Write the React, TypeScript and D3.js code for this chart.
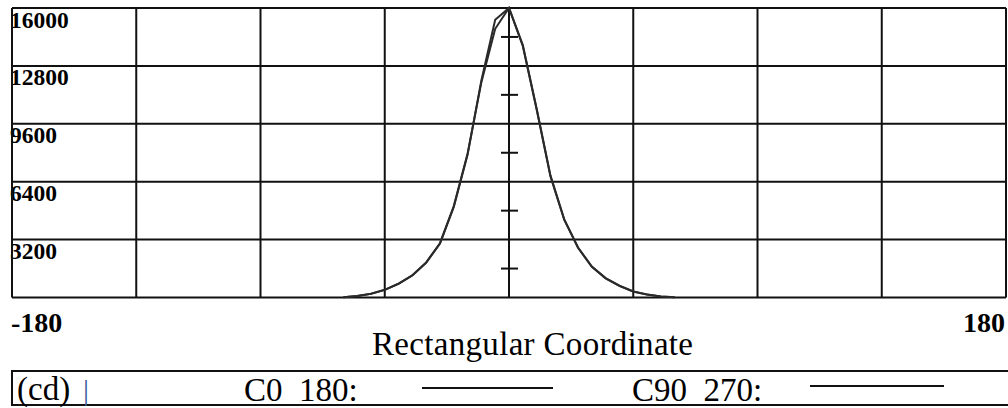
import React, { useEffect, useRef } from 'react';
import * as d3 from 'd3';

// angles in degrees, candela values
const angles = [-60, -55, -50, -45, -40, -35, -30, -25, -20, -15, -10, -5, 0, 5, 10, 15, 20, 25, 30, 35, 40, 45, 50, 55, 60];
const c0_180 = [20, 80, 200, 420, 760, 1220, 1920, 2980, 5000, 7900, 12000, 15350, 16000, 13900, 10400, 6700, 4300, 2750, 1700, 1060, 640, 330, 160, 60, 15];
const c90_270 = [20, 85, 205, 425, 770, 1230, 1940, 3000, 5050, 7950, 11900, 14850, 16000, 13950, 10450, 6750, 4320, 2760, 1710, 1070, 650, 335, 165, 62, 15];

const yTicks = [3200, 6400, 9600, 12800, 16000];
const xTicks = [-180, -135, -90, -45, 0, 45, 90, 135, 180];
const midTicks = [1600, 4800, 8000, 11200, 14400];

const App: React.FC = () => {
  const svgRef = useRef<SVGSVGElement>(null);

  useEffect(() => {
    if (!svgRef.current) return;
    const svg = d3.select(svgRef.current);
    svg.selectAll('*').remove();

    const left = 12, right = 1006, top = 8, bottom = 297.5;
    const x = d3.scaleLinear().domain([-180, 180]).range([left, right]);
    const y = d3.scaleLinear().domain([0, 16000]).range([bottom, top]);
    const serif = '"Liberation Serif", "Times New Roman", serif';
    const ink = '#111';

    svg.append('rect')
      .attr('width', 1008).attr('height', 408).attr('fill', '#fff');

    // y tick labels (drawn first, border sits on top)
    svg.append('g').selectAll('text')
      .data(yTicks)
      .enter().append('text')
      .attr('x', 10)
      .attr('y', d => y(d) + 19.5)
      .attr('font-family', serif)
      .attr('font-size', 23.5)
      .attr('font-weight', 'bold')
      .attr('fill', '#000')
      .text(d => d);

    // grid
    const grid = svg.append('g').attr('stroke', ink).attr('stroke-width', 2);
    grid.selectAll('.h')
      .data([0, ...yTicks])
      .enter().append('line')
      .attr('x1', left).attr('x2', right)
      .attr('y1', d => y(d)).attr('y2', d => y(d));
    grid.selectAll('.v')
      .data(xTicks)
      .enter().append('line')
      .attr('x1', d => x(d)).attr('x2', d => x(d))
      .attr('y1', top).attr('y2', bottom);

    // small ticks on the centre axis
    grid.selectAll('.t')
      .data(midTicks)
      .enter().append('line')
      .attr('x1', x(0) - 8).attr('x2', x(0) + 9)
      .attr('y1', d => y(d)).attr('y2', d => y(d));

    // curves
    const line = d3.line<number>()
      .x((_, i) => x(angles[i]))
      .y(d => y(d));
    [c90_270, c0_180].forEach(s => {
      svg.append('path')
        .datum(s)
        .attr('d', line)
        .attr('fill', 'none')
        .attr('stroke', '#2a2a2a')
        .attr('stroke-width', 2);
    });

    // x end labels
    svg.append('text')
      .attr('x', 11).attr('y', 332)
      .attr('font-family', serif).attr('font-size', 28).attr('font-weight', 'bold')
      .text('-180');
    svg.append('text')
      .attr('x', 1005).attr('y', 332)
      .attr('text-anchor', 'end')
      .attr('font-family', serif).attr('font-size', 28).attr('font-weight', 'bold')
      .text('180');

    svg.append('text')
      .attr('x', 372).attr('y', 355)
      .attr('font-family', serif).attr('font-size', 33)
      .attr('textLength', 321)
      .text('Rectangular Coordinate');

    // legend box
    svg.append('rect')
      .attr('x', 12).attr('y', 371)
      .attr('width', 1000).attr('height', 34)
      .attr('fill', 'none').attr('stroke', ink).attr('stroke-width', 2);

    const lg = svg.append('g').attr('font-family', serif).attr('font-size', 33).attr('fill', '#000');
    lg.append('text').attr('x', 17).attr('y', 400).text('(cd)');
    lg.append('text').attr('x', 83).attr('y', 400).attr('font-size', 30).attr('fill', '#3b5b9a').text('|');
    lg.append('text').attr('x', 244).attr('y', 401).attr('xml:space', 'preserve').text('C0  180:');
    lg.append('text').attr('x', 632).attr('y', 401).attr('xml:space', 'preserve').text('C90  270:');
    lg.append('line')
      .attr('x1', 422).attr('x2', 553).attr('y1', 388).attr('y2', 388)
      .attr('stroke', ink).attr('stroke-width', 2);
    lg.append('line')
      .attr('x1', 810).attr('x2', 944).attr('y1', 386).attr('y2', 386)
      .attr('stroke', ink).attr('stroke-width', 2);
  }, []);

  return (
    <svg
      ref={svgRef}
      width={1008}
      height={408}
      style={{ position: 'absolute', left: 0, top: 0, display: 'block' }}
    />
  );
};

export default App;
